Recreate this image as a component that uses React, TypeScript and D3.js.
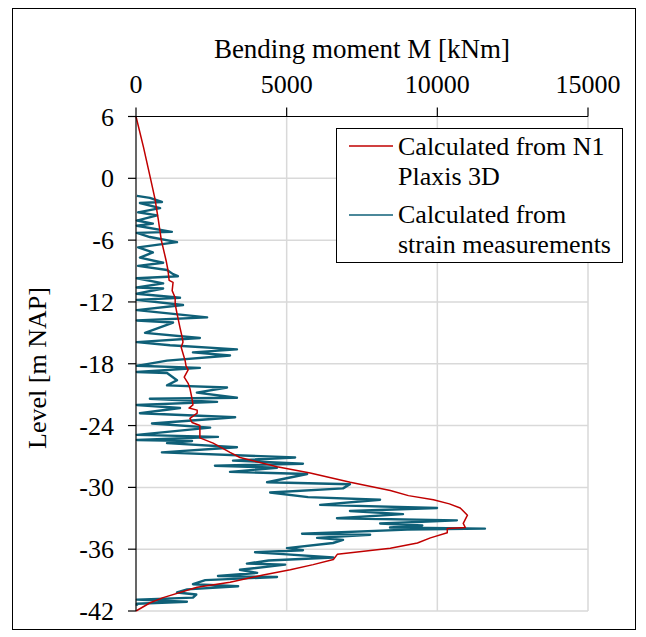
import React from "react";
import * as d3 from "d3";

const xTicks = [0, 5000, 10000, 15000];
const yTicks = [6, 0, -6, -12, -18, -24, -30, -36, -42];

const redLevel = [6, 3, 0, -2, -4, -6, -8, -8.9, -9.9, -10.1, -10.9, -11.6, -12.2, -13.1, -14.5, -15.4, -15.9, -16.4, -17.0, -17.7, -18.2, -18.6, -19.3, -19.9, -20.4, -21.4, -22.0, -22.3, -22.5, -22.8, -23.3, -23.7, -24.0, -25.2, -25.7, -26.6, -27.1, -28.0, -28.6, -29.5, -30.3, -30.8, -31.2, -31.6, -32.0, -32.7, -33.5, -33.9, -34.0, -34.4, -34.9, -35.4, -35.9, -36.5, -37.0, -37.5, -38.0, -38.5, -39.2, -39.7, -40.7, -41.2, -42];
const redM = [0, 250, 480, 630, 740, 840, 1000, 1060, 1100, 1230, 1200, 1300, 1300, 1360, 1460, 1530, 1560, 1500, 1560, 1630, 1660, 1730, 1600, 1730, 1790, 1860, 1890, 1760, 2030, 2030, 1790, 1860, 2120, 2120, 2560, 3120, 3450, 4680, 5780, 7110, 8440, 9040, 9870, 10400, 10760, 11000, 10860, 10930, 10330, 10330, 9770, 9340, 8440, 6680, 6550, 5880, 5120, 4220, 3120, 2030, 900, 470, 0];

const blueLevel = [-1.7, -1.9, -2.3, -2.4, -2.9, -3.3, -3.6, -4.1, -4.4, -4.6, -5.2, -5.3, -5.7, -6.2, -6.7, -7.2, -7.7, -8.2, -8.5, -8.9, -9.3, -9.5, -9.7, -10.2, -10.6, -10.7, -11.2, -11.6, -11.8, -12.3, -12.8, -13.5, -13.8, -14.0, -15.0, -15.5, -15.9, -16.2, -16.6, -16.9, -17.2, -17.7, -18.2, -18.4, -18.8, -18.9, -19.6, -20.1, -20.3, -20.8, -21.3, -21.4, -21.7, -22.0, -22.3, -22.8, -23.2, -23.8, -24.2, -24.9, -25.1, -25.4, -25.5, -25.7, -26.1, -26.6, -27.1, -27.4, -27.7, -27.9, -28.1, -28.5, -28.7, -29.5, -29.7, -30.1, -30.5, -30.95, -31.2, -31.7, -32.0, -32.3, -32.6, -33.0, -33.2, -33.5, -33.7, -33.9, -34.0, -34.1, -34.5, -34.6, -34.9, -35.1, -35.4, -35.9, -36.1, -36.3, -36.5, -36.8, -37.1, -37.4, -37.5, -38.0, -38.3, -38.6, -38.7, -39.0, -39.4, -39.6, -39.9, -40.2, -40.4, -40.7, -40.9, -41.1, -41.3, -41.5];
const blueM = [30, 460, 860, 130, 800, 70, 700, 30, 560, 30, 1190, 30, 460, 1360, 70, 560, 130, 900, 70, 1030, 1230, 1390, 30, 900, 30, 900, 30, 1460, 30, 1560, 30, 2360, 30, 1230, 300, 2120, 30, 1130, 3350, 1890, 3120, 1030, 30, 2120, 30, 1030, 1360, 1030, 3020, 2020, 3350, 460, 2690, 30, 1460, 130, 3290, 530, 2460, 30, 2720, 30, 1860, 1030, 3350, 860, 5280, 3220, 5540, 2620, 4680, 3120, 5680, 4350, 7100, 6870, 4450, 5710, 8100, 6110, 9990, 7100, 8860, 6670, 10650, 8100, 9500, 8430, 11580, 9000, 5510, 7770, 6010, 6870, 6540, 5010, 5540, 3950, 5010, 6540, 4400, 3680, 4950, 3450, 4020, 2720, 4680, 2300, 1890, 3390, 1700, 1360, 2000, 1890, 30, 1690, 30, 30];

const legendLabels = [["Calculated from N1", "Plaxis 3D"], ["Calculated from", "strain measurements"]];
const colors = ["#c00000", "#0f6078"];

export default function App() {
  const W = 646, H = 637;
  const x = d3.scaleLinear().domain([0, 15000]).range([136, 588]);
  const y = d3.scaleLinear().domain([6, -42]).range([116.5, 611]);
  const line = d3.line<[number, number]>().x(d => x(d[1])).y(d => y(d[0]));
  const red = line(redLevel.map((l, i) => [l, redM[i]]));
  const blue = line(blueLevel.map((l, i) => [l, blueM[i]]));
  const ts = { fontFamily: "Liberation Serif, DejaVu Serif, serif" };
  return (
    <svg width={W} height={H} style={{ position: "absolute", left: 0, top: 0 }}>
      <rect x={0} y={0} width={W} height={H} fill="#fff" />
      <rect x={12.5} y={8.5} width={623} height={621} fill="none" stroke="#000" strokeWidth={1} />
      {xTicks.slice(1).map(t => (
        <line key={"gx" + t} x1={x(t)} x2={x(t)} y1={y(6)} y2={y(-42)} stroke="#d9d9d9" strokeWidth={1.5} />
      ))}
      {yTicks.slice(1).map(t => (
        <line key={"gy" + t} x1={x(0)} x2={x(15000)} y1={y(t)} y2={y(t)} stroke="#d9d9d9" strokeWidth={1.5} />
      ))}
      <path d={blue || ""} fill="none" stroke={colors[1]} strokeWidth={2.4} strokeLinejoin="round" />
      <path d={red || ""} fill="none" stroke={colors[0]} strokeWidth={1.5} strokeLinejoin="round" />
      <line x1={x(0)} x2={x(15000)} y1={y(6)} y2={y(6)} stroke="#000" strokeWidth={1.2} />
      <line x1={x(0)} x2={x(0)} y1={y(6)} y2={y(-42)} stroke="#000" strokeWidth={1.2} />
      {xTicks.map(t => (
        <g key={"tx" + t}>
          <line x1={x(t)} x2={x(t)} y1={y(6)} y2={y(6) - 9} stroke="#000" strokeWidth={1.2} />
          <text x={x(t)} y={93} textAnchor="middle" fontSize={26} style={ts}>{t}</text>
        </g>
      ))}
      {yTicks.map(t => (
        <g key={"ty" + t}>
          <line x1={x(0) - 8} x2={x(0)} y1={y(t)} y2={y(t)} stroke="#000" strokeWidth={1.2} />
          <text x={114} y={y(t) + 9} textAnchor="end" fontSize={26} style={ts}>{t}</text>
        </g>
      ))}
      <text x={362} y={58} textAnchor="middle" fontSize={27} style={ts}>Bending moment M [kNm]</text>
      <text transform={`translate(46,368) rotate(-90)`} textAnchor="middle" fontSize={26} style={ts}>Level [m NAP]</text>
      <rect x={336.5} y={128.5} width={286} height={134} fill="#fff" stroke="#000" strokeWidth={1} />
      {legendLabels.map((lab, i) => (
        <g key={"lg" + i}>
          <line x1={349} x2={393} y1={i === 0 ? 146 : 215} y2={i === 0 ? 146 : 215} stroke={colors[i]} strokeWidth={1.5} />
          <text x={398} y={i === 0 ? 155 : 223} fontSize={26} style={ts}>{lab[0]}</text>
          <text x={398} y={i === 0 ? 185 : 253} fontSize={26} style={ts}>{lab[1]}</text>
        </g>
      ))}
    </svg>
  );
}
